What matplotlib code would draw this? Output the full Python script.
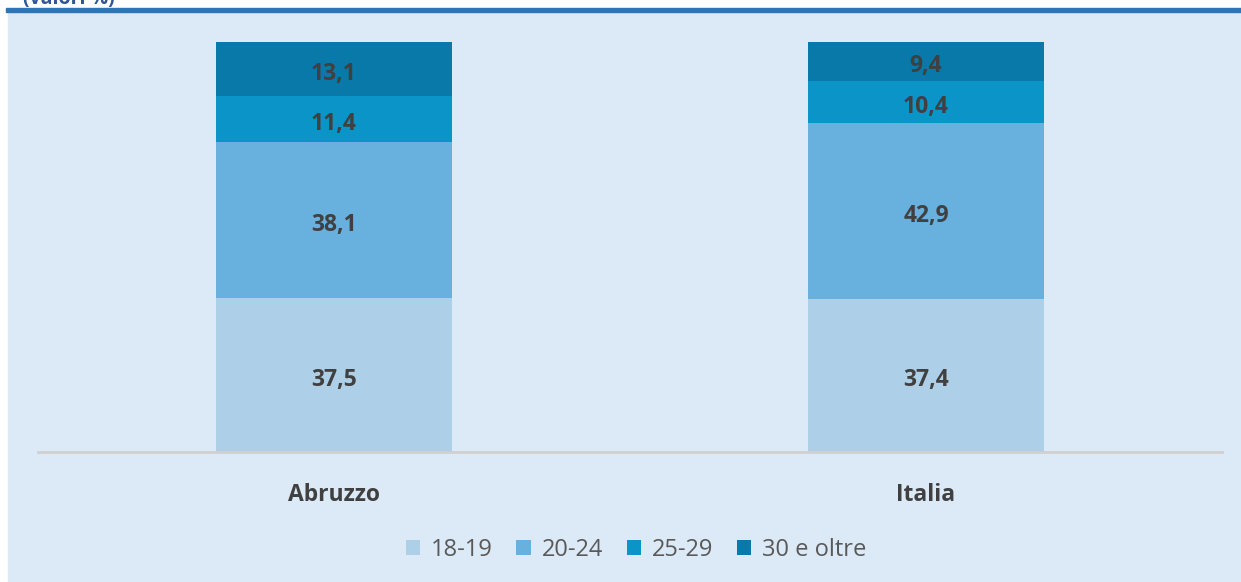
import matplotlib.pyplot as plt
from matplotlib.patches import Rectangle
import numpy as np

plt.rcParams['font.family'] = ['Open Sans', 'DejaVu Sans']

# data
regions = ['Abruzzo', 'Italia']
classes = ['18-19', '20-24', '25-29', '30 e oltre']
values = {
    '18-19': [37.5, 37.4],
    '20-24': [38.1, 42.9],
    '25-29': [11.4, 10.4],
    '30 e oltre': [13.1, 9.4],
}
colors = ['#AECFE8', '#68B0DD', '#0B94C8', '#0879A8']

W, H = 1241, 582
fig = plt.figure(figsize=(W / 100, H / 100), dpi=100)
fig.patch.set_facecolor('white')

# background panel and top rule
fig.patches.append(Rectangle((8 / W, 0), 1 - 8 / W, (H - 12) / H,
                             transform=fig.transFigure, color='#DCE9F6', zorder=-2))
fig.patches.append(Rectangle((6 / W, (H - 12) / H), 1 - 6 / W, 4 / H,
                             transform=fig.transFigure, color='#2E75B6', zorder=-2))
fig.text(23 / W, 1 + 11 / H, '(valori %)', color='#2F5597', fontsize=14,
         fontweight='bold', va='top')

ax = fig.add_axes([38 / W, (H - 452) / H, (1222 - 38) / W, (452 - 42) / H])
ax.set_facecolor('none')
x = np.arange(len(regions))
bottom = np.zeros(len(regions))
for c, col in zip(classes, colors):
    v = np.array(values[c])
    ax.bar(x, v, 0.4, bottom=bottom, color=col, label=c, zorder=2)
    for xi, b, vi in zip(x, bottom, v):
        ax.text(xi, b + vi / 2 - 0.5, f'{vi:.1f}'.replace('.', ','), ha='center',
                va='center_baseline', fontsize=16.5, fontweight='bold',
                color='#404040', zorder=3)
    bottom += v

ax.set_xlim(-0.5, 1.5)
ax.set_ylim(0, 100.1)
ax.set_yticks([])
ax.set_xticks(x)
ax.set_xticklabels(regions, fontsize=16.5, fontweight='bold', color='#404040')
ax.tick_params(axis='x', length=0, pad=22)
for s in ['top', 'right', 'left']:
    ax.spines[s].set_visible(False)
ax.spines['bottom'].set_color('#D0D0D0')
ax.spines['bottom'].set_linewidth(2)

leg = fig.legend(loc='center', bbox_to_anchor=(636 / W, (H - 550) / H), ncol=4,
                 frameon=False, fontsize=17, handlelength=0.62, handleheight=0.62,
                 handletextpad=0.45, columnspacing=1.0)
for t in leg.get_texts():
    t.set_color('#595959')

fig.savefig('out.png', dpi=100)
